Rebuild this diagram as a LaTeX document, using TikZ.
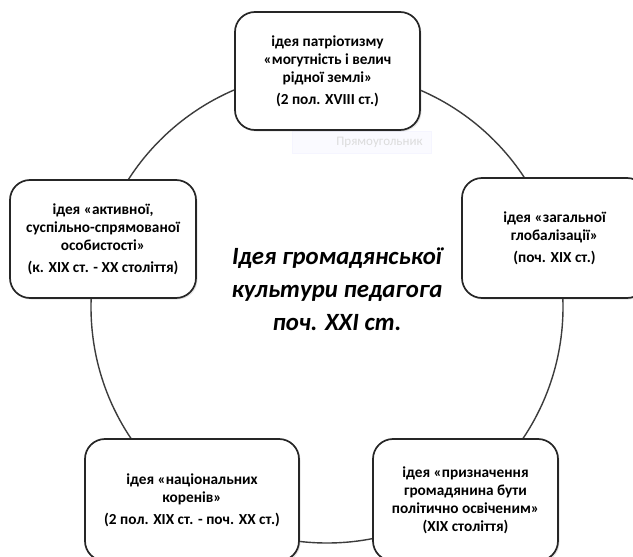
\documentclass[tikz,border=0pt]{standalone}
\usepackage{fontspec}
\setmainfont{Carlito}
\usepackage{xcolor}
\usetikzlibrary{shadows}
\definecolor{darkgrey}{HTML}{262626}
\colorlet{ringgrey}{darkgrey!90!white}
\colorlet{tipgrey}{darkgrey!16!white}
\colorlet{tipfill}{blue!2!white}

\tikzset{
    idea/.style={draw=darkgrey, line width=1.7pt, fill=white, rounded corners=20pt,
        align=center, inner sep=0pt, font=\fontsize{15.3}{18}\selectfont\bfseries,
        drop shadow={shadow xshift=1.5pt, shadow yshift=-1.5pt, opacity=0.22}}
}

\begin{document}
\begin{tikzpicture}[x=1pt, y=-1pt]
    \clip (0, 0) rectangle (633, 557);
    \fill[white] (0, 0) rectangle (633, 557);
    \coordinate (centre) at (327, 307);
    \draw[ringgrey, line width=1.4pt] (centre) circle (236pt);
    % faint label under the top box
    \node[fill=tipfill, draw=blue!4!white, minimum width=139pt, minimum height=22pt,
        inner sep=0pt, font=\fontsize{13}{15}\selectfont, text=tipgrey] (tip) at (361.5, 142)
        {\hspace*{36pt}Прямоугольник};
    \node[idea, minimum width=185pt, minimum height=118pt] (patriot) at (327.5, 71)
        {ідея патріотизму\\«могутність і велич\\рідної землі»\\[4pt](2 пол. XVIII ст.)};
    \node[idea, minimum width=186pt, minimum height=118pt] (active) at (103, 239)
        {ідея «активної,\\суспільно-спрямованої\\особистості»\\[4pt](к. XIX ст. - XX століття)};
    \node[idea, minimum width=185pt, minimum height=120pt] (global) at (554.5, 238)
        {ідея «загальної\\глобалізації»\\[4pt](поч. XIX ст.)};
    \node[idea, minimum width=214pt, minimum height=122pt] (roots) at (192, 500)
        {ідея «національних\\коренів»\\[4pt](2 пол. XIX ст. - поч. XX ст.)};
    \node[idea, minimum width=185pt, minimum height=122pt] (citizen) at (465.5, 500)
        {ідея «призначення\\громадянина бути\\політично освіченим»\\(XIX століття)};
    \node[font=\fontsize{24.8}{33}\selectfont\bfseries\itshape, align=center] (main) at (337, 289)
        {Ідея громадянської\\культури педагога\\поч. XXI ст.};
\end{tikzpicture}
\end{document}
